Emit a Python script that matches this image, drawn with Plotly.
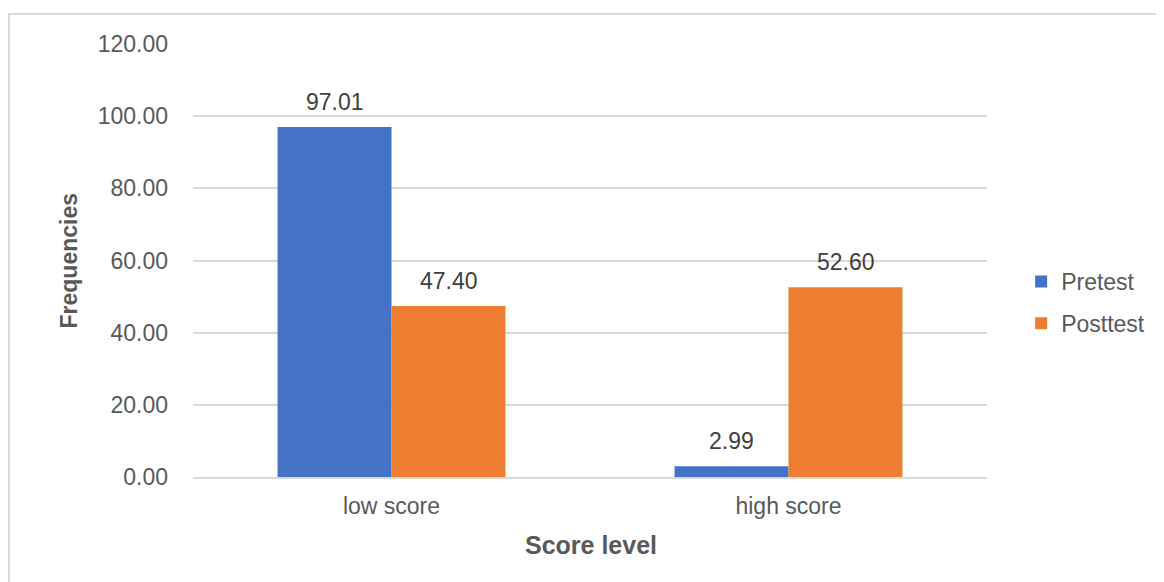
import plotly.graph_objects as go

categories = ["low score", "high score"]
series_names = ["Pretest", "Posttest"]
pretest = [97.01, 2.99]
posttest = [47.40, 52.60]
y_ticks = [0, 20, 40, 60, 80, 100, 120]
y_tick_labels = ["0.00", "20.00", "40.00", "60.00", "80.00", "100.00", "120.00"]
colors = ["#4472C4", "#ED7D31"]

FONT = "Liberation Sans, Arial, sans-serif"
W, H = 1156, 574
L, R, T, B = 185, 177, 36, 105
PW, PH = W - L - R, H - T - B

fig = go.Figure()
for name, vals, col in zip(series_names, [pretest, posttest], colors):
    fig.add_trace(go.Bar(name=name, x=categories, y=vals, legendgroup=name,
                         marker=dict(color=col, line=dict(width=0))))

# data labels
for i, vals in enumerate([pretest, posttest]):
    shift = -57 if i == 0 else 57
    for c, v in zip(categories, vals):
        fig.add_annotation(x=c, y=v, text=f"{v:.2f}", showarrow=False, xshift=shift,
                           yanchor="bottom", yshift=10,
                           font=dict(family=FONT, size=23, color="#404040"))

# axis titles
fig.add_annotation(xref="paper", yref="paper", x=(583 - L) / PW, y=(37 - B) / PH,
                   text="<b>Score level</b>", showarrow=False, xanchor="center", yanchor="middle",
                   font=dict(family=FONT, size=25, color="#595959"))
fig.add_annotation(xref="paper", yref="paper", x=(60 - L) / PW, y=0.5, textangle=-90,
                   text="<b>Frequencies</b>", showarrow=False, xanchor="center", yanchor="middle",
                   font=dict(family="Liberation Sans Narrow, Arial Narrow, Liberation Sans, Arial, sans-serif",
                             size=23, color="#595959"))

# chart border (top & left visible)
fig.add_shape(type="rect", xref="paper", yref="paper",
              x0=(1 - L) / PW, x1=(W + 20 - L) / PW,
              y0=(-20 - B) / PH, y1=(H - 6 - B) / PH,
              line=dict(color="#D9D9D9", width=2), layer="below")

fig.update_layout(
    width=W, height=H,
    margin=dict(l=L, r=R, t=T, b=B),
    paper_bgcolor="white", plot_bgcolor="white",
    barmode="group", bargap=0.426, bargroupgap=0,
    font=dict(family=FONT, size=23, color="#595959"),
    showlegend=True,
    legend=dict(x=1.043, xanchor="left", y=0.403, yanchor="middle",
                font=dict(family=FONT, size=23, color="#595959"),
                itemwidth=30, tracegroupgap=9, bgcolor="rgba(0,0,0,0)"),
)
fig.update_xaxes(showgrid=False, showline=True, linecolor="#D9D9D9", linewidth=2,
                 ticks="", ticklabelstandoff=7,
                 tickfont=dict(family=FONT, size=23, color="#595959"), fixedrange=True)
fig.update_yaxes(range=[0, 120], tickvals=y_ticks, ticktext=y_tick_labels,
                 showgrid=True, gridcolor="#D9D9D9", gridwidth=2, zeroline=False,
                 showline=False, ticks="", ticklabelstandoff=24,
                 tickfont=dict(family=FONT, size=23, color="#595959"))

fig.write_html("out.html")
